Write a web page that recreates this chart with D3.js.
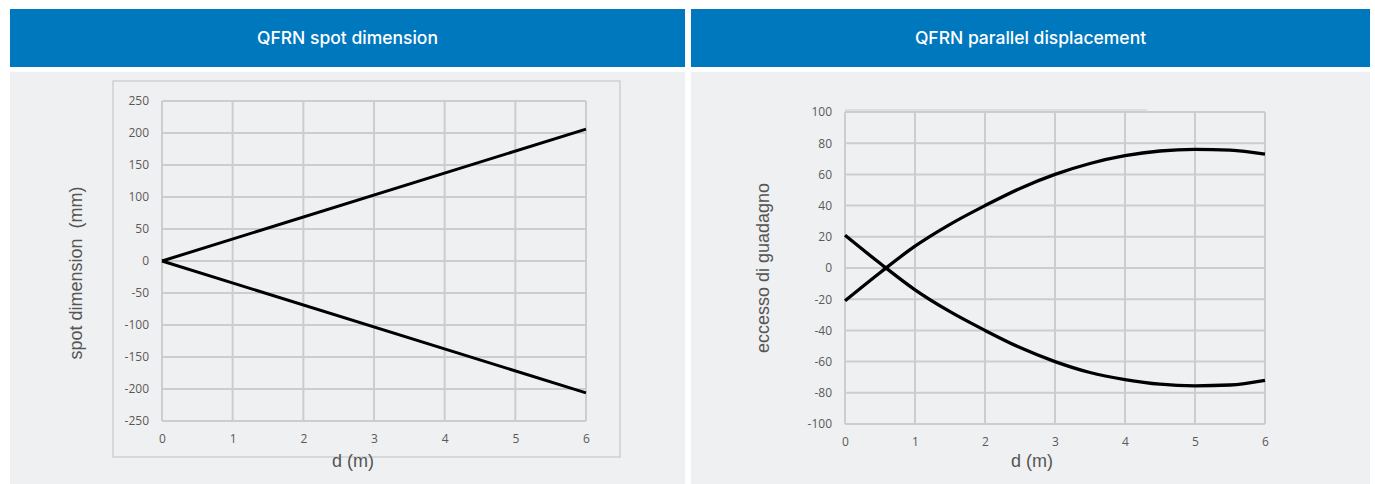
<!doctype html>
<html lang="en">
<head>
    <meta charset="UTF-8">
    <title>QFRN charts</title>
    <script src="https://cdnjs.cloudflare.com/ajax/libs/d3/7.8.5/d3.min.js"></script>
    <style>
        html, body {
            margin: 0;
            padding: 0;
            background: #ffffff;
            overflow: hidden;
        }
        .tick text {
            font-family: "Open Sans", "Liberation Sans", sans-serif;
            font-size: 12px;
            fill: #595959;
        }
    </style>
</head>
<body>
<svg id="chart" width="1375" height="484"></svg>
<script>
    // data
    const spotD = [0, 6];
    const spotUpper = [0, 206];
    const spotLower = [0, -206];

    const dispD = [0, 0.5, 1, 1.5, 2, 2.5, 3, 3.5, 4, 4.5, 5, 5.5, 6];
    const dispRising = [-21, -3, 14, 28, 40, 51, 60, 67, 72, 75, 76, 75.5, 73];
    const dispFalling = [21, 3, -14, -28, -40, -51, -60, -67, -71.5, -74.5, -75.5, -75, -72];

    const xTicks = [0, 1, 2, 3, 4, 5, 6];
    const spotTicks = [-250, -200, -150, -100, -50, 0, 50, 100, 150, 200, 250];
    const dispTicks = [-100, -80, -60, -40, -20, 0, 20, 40, 60, 80, 100];

    const titles = ["QFRN spot dimension", "QFRN parallel displacement"];
    const yTitles = ["spot dimension  (mm)", "eccesso di guadagno"];

    const svg = d3.select("#chart");

    function panel(opt) {
        const g = svg.append("g");
        // header
        g.append("rect").attr("x", opt.px).attr("y", 9).attr("width", opt.pw).attr("height", 58)
            .attr("fill", "#0078be");
        g.append("text").attr("x", opt.px + opt.pw / 2).attr("y", 44)
            .attr("text-anchor", "middle").attr("fill", "#fff")
            .style("font-family", "Inter, 'Liberation Sans', sans-serif")
            .style("font-size", "17.5px").style("font-weight", 500)
            .text(opt.title);
        // panel body
        g.append("rect").attr("x", opt.px).attr("y", 72).attr("width", opt.pw).attr("height", 412)
            .attr("fill", "#eff0f2");

        if (opt.frame) {
            g.append("rect").attr("x", opt.frame[0]).attr("y", opt.frame[1])
                .attr("width", opt.frame[2]).attr("height", opt.frame[3])
                .attr("fill", "none").attr("stroke", "#cfcfcf").attr("stroke-width", 1.5);
        }
        if (opt.topLine) {
            g.append("line").attr("x1", opt.topLine[0]).attr("x2", opt.topLine[1])
                .attr("y1", opt.topLine[2]).attr("y2", opt.topLine[2])
                .attr("stroke", "#cccccc").attr("stroke-width", 1);
        }

        const x = d3.scaleLinear().domain([0, 6]).range([opt.x0, opt.x1]);
        const y = d3.scaleLinear().domain(opt.yDomain).range([opt.y0, opt.y1]);

        // grid
        g.append("g").selectAll("line").data(xTicks).join("line")
            .attr("x1", d => x(d)).attr("x2", d => x(d))
            .attr("y1", y(opt.yDomain[0])).attr("y2", y(opt.yDomain[1]))
            .attr("stroke", "#cdcdcd").attr("stroke-width", 2);
        g.append("g").selectAll("line").data(opt.yTicks).join("line")
            .attr("x1", x(0)).attr("x2", x(6))
            .attr("y1", d => y(d)).attr("y2", d => y(d))
            .attr("stroke", "#cdcdcd").attr("stroke-width", 2);

        // axes (labels only)
        const fmt = d => String(d);
        const ax = g.append("g").attr("transform", "translate(0," + (opt.y0 + 4) + ")")
            .call(d3.axisBottom(x).tickValues(xTicks).tickFormat(fmt).tickSize(0).tickPadding(9));
        ax.select(".domain").remove();
        const ay = g.append("g").attr("transform", "translate(" + (opt.x0 - 4) + ",0)")
            .call(d3.axisLeft(y).tickValues(opt.yTicks).tickFormat(fmt).tickSize(0).tickPadding(9));
        ay.select(".domain").remove();

        // titles
        g.append("text").attr("x", opt.xTitle[0]).attr("y", opt.xTitle[1])
            .attr("text-anchor", "middle").attr("fill", "#555")
            .style("font-family", "'Liberation Sans', sans-serif").style("font-size", "18px")
            .text("d (m)");
        g.append("text")
            .attr("transform", "translate(" + opt.yTitle[0] + "," + opt.yTitle[1] + ") rotate(-90)")
            .attr("text-anchor", "middle").attr("fill", "#555")
            .style("font-family", "'Liberation Sans', sans-serif").style("font-size", "18px")
            .style("white-space", "pre")
            .text(opt.yLabel);

        // series
        const line = d3.line().x(d => x(d[0])).y(d => y(d[1])).curve(d3.curveMonotoneX);
        opt.series.forEach(s => {
            g.append("path").datum(d3.zip(s.xs, s.ys)).attr("d", line)
                .attr("fill", "none").attr("stroke", "#000").attr("stroke-width", opt.lw);
        });
    }

    panel({
        px: 10, pw: 675, title: titles[0],
        frame: [113, 81, 507, 376],
        x0: 162, x1: 586, y0: 421, y1: 101, yDomain: [-250, 250], yTicks: spotTicks,
        xTitle: [353, 467], yTitle: [82, 273], yLabel: yTitles[0], lw: 3,
        series: [{xs: spotD, ys: spotUpper}, {xs: spotD, ys: spotLower}]
    });

    panel({
        px: 691, pw: 679, title: titles[1],
        topLine: [845, 1147, 110],
        x0: 845, x1: 1265, y0: 424, y1: 112, yDomain: [-100, 100], yTicks: dispTicks,
        xTitle: [1032, 467], yTitle: [769, 268], yLabel: yTitles[1], lw: 3.3,
        series: [{xs: dispD, ys: dispRising}, {xs: dispD, ys: dispFalling}]
    });
</script>
</body>
</html>
